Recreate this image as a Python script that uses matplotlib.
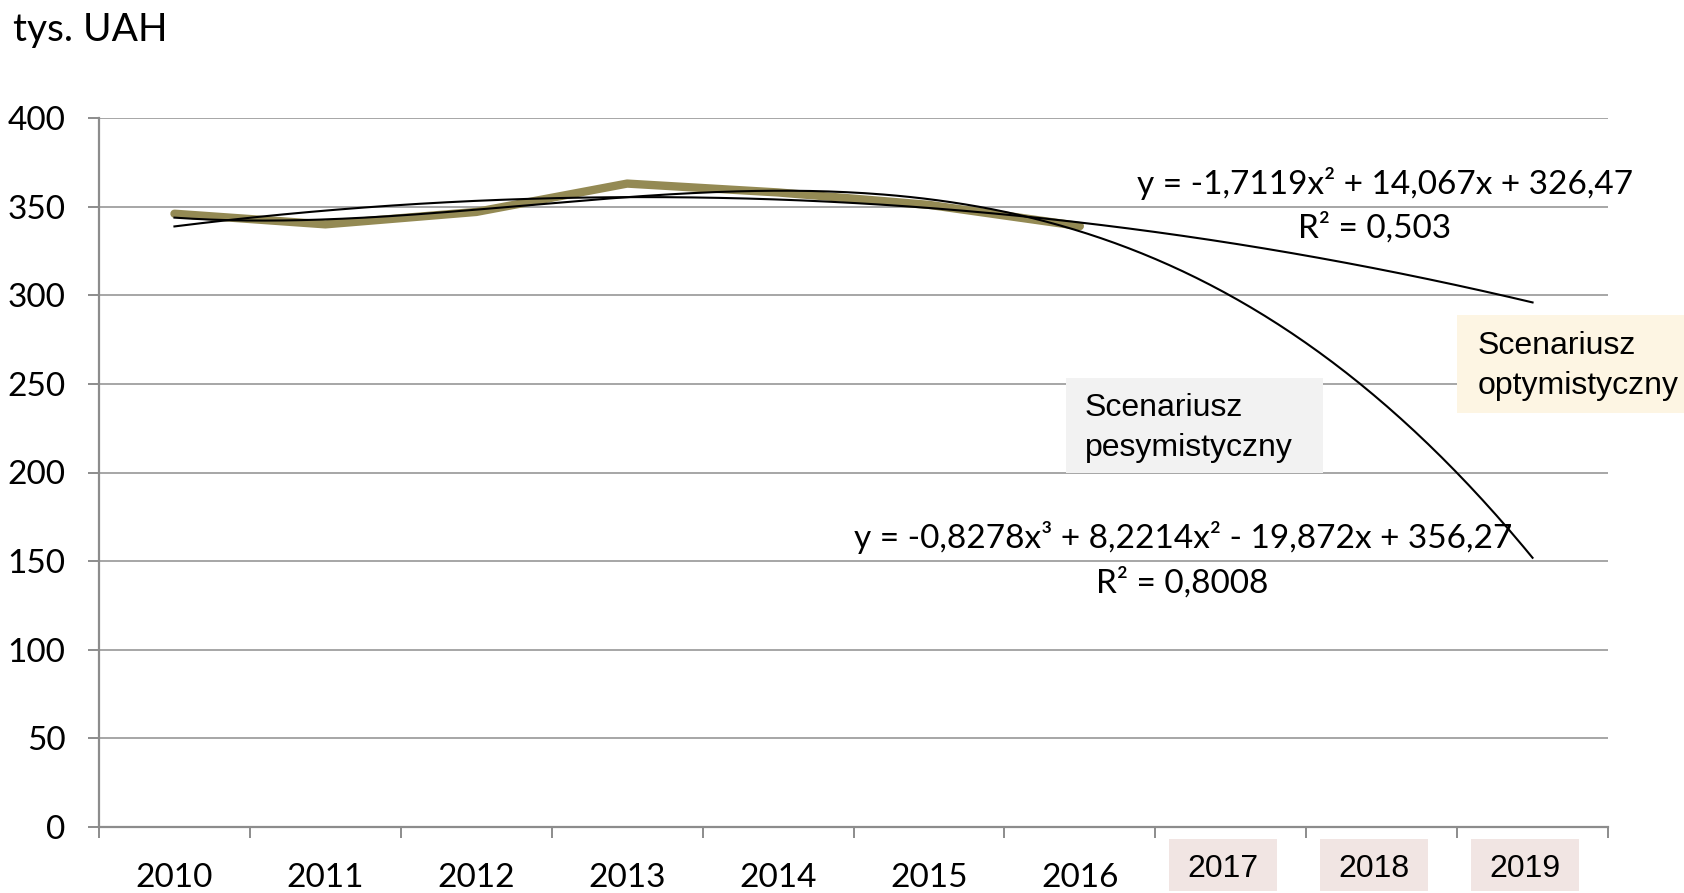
import matplotlib.pyplot as plt
import numpy as np
from matplotlib.patches import Rectangle
from matplotlib.transforms import blended_transform_factory

# Data
years = ['2010', '2011', '2012', '2013', '2014', '2015', '2016', '2017', '2018', '2019']
forecast_years = ['2017', '2018', '2019']
income = [346, 340, 347, 363, 358, 351, 339]
y_ticks = [0, 50, 100, 150, 200, 250, 300, 350, 400]

# trendline coefficients as printed on the chart (x = 1 for 2010)
quad_coef = [-1.7119, 14.067, 326.47]
cubic_coef = [-0.8278, 8.2214, -19.872, 356.27]
quad_label = 'y = -1,7119x² + 14,067x + 326,47'
quad_r2 = 'R² = 0,503'
cubic_label = 'y = -0,8278x³ + 8,2214x² - 19,872x + 356,27'
cubic_r2 = 'R² = 0,8008'

unit_label = 'tys. UAH'
pess_label = 'Scenariusz\npesymistyczny'
opt_label = 'Scenariusz\noptymistyczny'

# Style
W, H = 1684, 893
MAIN_FONT = ['Lato', 'DejaVu Sans']
BOX_FONT = ['Liberation Sans', 'DejaVu Sans']
OLIVE = '#948a54'
GRID = '#a6a6a6'
AXIS = '#8c8c8c'


def fx(px):
    return px / W


def fy(py):
    return 1 - py / H


fig = plt.figure(figsize=(W / 100, H / 100), dpi=100)
ax = fig.add_axes([fx(99), fy(827), fx(1608 - 99), (827 - 118) / H])

x = np.arange(len(income))
ax.plot(x, income, color=OLIVE, lw=6, solid_capstyle='round',
        solid_joinstyle='round', zorder=3)

t = np.linspace(1, len(years), 300)
ax.plot(t - 1, np.polyval(quad_coef, t), color='black', lw=1.5, zorder=4)
ax.plot(t - 1, np.polyval(cubic_coef, t), color='black', lw=1.5, zorder=4)

ax.set_xlim(-0.5, len(years) - 0.5)
ax.set_ylim(0, 400)
ax.set_yticks(y_ticks)
ax.set_yticklabels([str(v) for v in y_ticks], family=MAIN_FONT, fontsize=24)
ax.set_xticks(np.arange(-0.5, len(years), 1))
ax.set_xticklabels([])
ax.yaxis.grid(True, color=GRID, lw=1.4)
ax.set_axisbelow(True)
for side in ['top', 'right']:
    ax.spines[side].set_visible(False)
for side in ['left', 'bottom']:
    ax.spines[side].set_color(AXIS)
    ax.spines[side].set_linewidth(1.6)
ax.tick_params(axis='y', length=8, width=1.4, color=AXIS, pad=16)
ax.tick_params(axis='x', length=8, width=1.4, color=AXIS)

# category labels, forecast years sit on pink boxes
trans = blended_transform_factory(ax.transData, ax.transAxes)
step = 1508 / len(years)  # pixels per category
for i, yr in enumerate(years):
    if yr in forecast_years:
        cx = i - 8 / step
        ax.add_patch(Rectangle((cx - 54 / step, -(891 - 827) / 709), 108 / step, 52 / 709,
                               transform=trans, fc='#f1e5e3', ec='none', clip_on=False))
        ax.text(cx, -(869 - 827) / 709, yr, transform=trans, ha='center', va='center',
                family=BOX_FONT, fontsize=23, clip_on=False)
    else:
        ax.text(i, -(878 - 827) / 709, yr, transform=trans, ha='center', va='center',
                family=MAIN_FONT, fontsize=24, clip_on=False)

fig.text(fx(13), fy(30), unit_label, family=MAIN_FONT, fontsize=28, va='center')

# trendline equations
fig.text(fx(1633), fy(183), quad_label, family=MAIN_FONT, fontsize=24,
         ha='right', va='center')
fig.text(fx(1375), fy(228), quad_r2, family=MAIN_FONT, fontsize=24,
         ha='center', va='center')
fig.text(fx(1183), fy(537), cubic_label, family=MAIN_FONT, fontsize=24,
         ha='center', va='center')
fig.text(fx(1182), fy(583), cubic_r2, family=MAIN_FONT, fontsize=24,
         ha='center', va='center')

# scenario boxes
fig.add_artist(Rectangle((fx(1066), fy(473)), fx(1323 - 1066), (473 - 378) / H,
                         transform=fig.transFigure, fc='#f2f2f2', ec='none', zorder=5))
fig.text(fx(1085), fy(428), pess_label, family=BOX_FONT, fontsize=23,
         va='center', linespacing=1.4, zorder=6)
fig.add_artist(Rectangle((fx(1457), fy(413)), 1.02 - fx(1457), (413 - 315) / H,
                         transform=fig.transFigure, fc='#fdf5e3', ec='none', zorder=5))
fig.text(fx(1478), fy(366), opt_label, family=BOX_FONT, fontsize=23,
         va='center', linespacing=1.4, zorder=6)

fig.savefig('out.png', dpi=100, facecolor='white')
